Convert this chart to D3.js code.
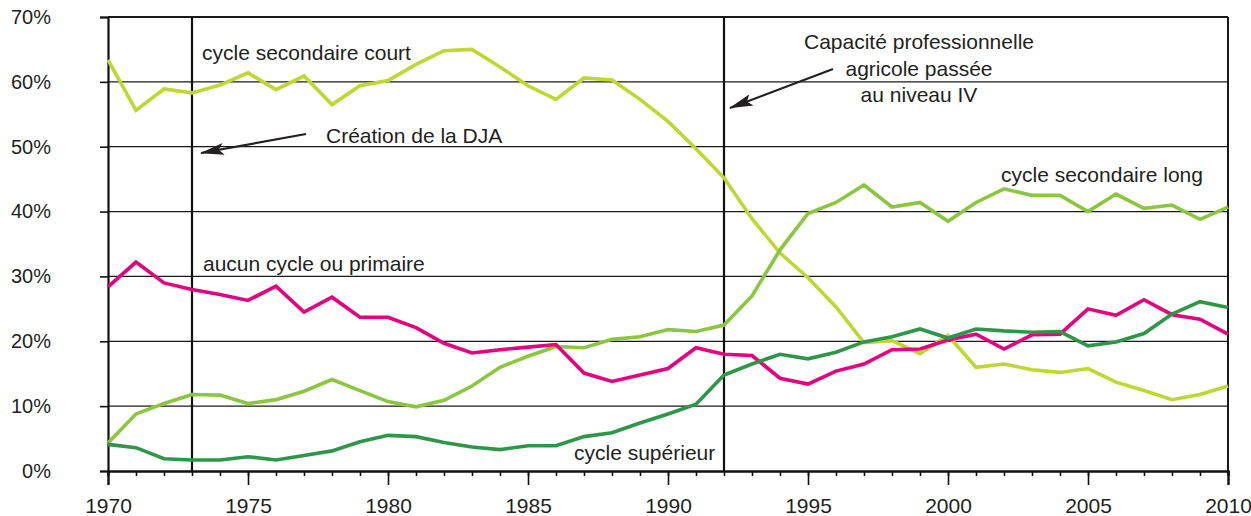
<!DOCTYPE html>
<html>
<head>
<meta charset="utf-8">
<script src="https://cdn.jsdelivr.net/npm/d3@7"></script>
<style>
  body { margin: 0; background: #fff; }
  svg { display: block; font-family: "Liberation Sans", Arial, sans-serif; }
</style>
</head>
<body>
<div id="chart"></div>
<script>
var years = [1970, 1971, 1972, 1973, 1974, 1975, 1976, 1977, 1978, 1979,
             1980, 1981, 1982, 1983, 1984, 1985, 1986, 1987, 1988, 1989,
             1990, 1991, 1992, 1993, 1994, 1995, 1996, 1997, 1998, 1999,
             2000, 2001, 2002, 2003, 2004, 2005, 2006, 2007, 2008, 2009, 2010];

// parts (%) per level
var secondaireCourt = [63.4, 55.6, 58.9, 58.3, 59.5, 61.4, 58.8, 60.9, 56.5, 59.4,
                       60.2, 62.7, 64.8, 65.0, 62.3, 59.4, 57.3, 60.6, 60.3, 57.3,
                       53.9, 49.7, 45.2, 38.9, 33.6, 29.8, 25.3, 19.8, 20.1, 18.1,
                       20.9, 16.0, 16.5, 15.6, 15.2, 15.8, 13.7, 12.4, 11.0, 11.8, 13.1];
var secondaireLong = [4.3, 8.8, 10.4, 11.8, 11.7, 10.4, 11.0, 12.3, 14.1, 12.4,
                      10.7, 9.9, 10.9, 13.1, 16.0, 17.7, 19.2, 19.0, 20.3, 20.7,
                      21.8, 21.5, 22.5, 27.0, 34.1, 39.7, 41.4, 44.1, 40.7, 41.4,
                      38.5, 41.4, 43.5, 42.5, 42.5, 40.0, 42.7, 40.5, 41.0, 38.8, 40.7];
var aucunPrimaire = [28.4, 32.2, 29.0, 28.0, 27.2, 26.3, 28.5, 24.5, 26.8, 23.7,
                     23.7, 22.1, 19.7, 18.2, 18.7, 19.1, 19.5, 15.1, 13.8, 14.8,
                     15.8, 19.0, 18.0, 17.8, 14.3, 13.4, 15.4, 16.5, 18.7, 18.8,
                     20.2, 21.1, 18.8, 21.0, 21.1, 25.0, 24.0, 26.4, 24.1, 23.4, 21.1];
var superieur = [4.1, 3.6, 1.9, 1.7, 1.7, 2.2, 1.7, 2.4, 3.1, 4.5,
                 5.5, 5.3, 4.4, 3.7, 3.3, 3.9, 3.9, 5.3, 5.9, 7.4,
                 8.8, 10.3, 14.8, 16.5, 18.0, 17.3, 18.3, 19.9, 20.7, 21.9,
                 20.5, 21.9, 21.6, 21.4, 21.5, 19.3, 19.9, 21.2, 24.2, 26.1, 25.2];

var yTicks = [0, 10, 20, 30, 40, 50, 60, 70];
var xMajorTicks = [1970, 1975, 1980, 1985, 1990, 1995, 2000, 2005, 2010];
var markerYears = [1973, 1992];

var w = 1251,
    h = 516;

var x = d3.scaleLinear().domain([1970, 2010]).range([108, 1228]);
var y = d3.scaleLinear().domain([0, 70]).range([471, 17]);

var svg = d3.select("#chart")
    .append("svg")
    .attr("width", w)
    .attr("height", h);

// horizontal grid
svg.append("g")
    .selectAll("line")
    .data(yTicks.slice(1))
    .enter()
    .append("line")
    .attr("x1", x(1970))
    .attr("x2", x(2010))
    .attr("y1", function(d) { return y(d); })
    .attr("y2", function(d) { return y(d); })
    .style("stroke", "#1a1a1a")
    .style("stroke-width", function(d) { return d == 70 ? 2 : 1.2; });

// right frame
svg.append("line")
    .attr("x1", x(2010)).attr("x2", x(2010))
    .attr("y1", y(70)).attr("y2", y(0))
    .style("stroke", "#1a1a1a")
    .style("stroke-width", 2);

// the two dates
svg.append("g")
    .selectAll("line")
    .data(markerYears)
    .enter()
    .append("line")
    .attr("x1", function(d) { return x(d); })
    .attr("x2", function(d) { return x(d); })
    .attr("y1", y(70))
    .attr("y2", y(0))
    .style("stroke", "#111")
    .style("stroke-width", 2.2);

// y axis
var yAxis = svg.append("g")
    .attr("transform", "translate(" + x(1970) + ",0)")
    .call(d3.axisLeft(y).tickValues(yTicks).tickSize(8).tickPadding(49)
        .tickFormat(function(d) { return d + "%"; }));

// x axis : short ticks each year, long ticks every 5 years
var xMinor = svg.append("g")
    .attr("transform", "translate(0," + y(0) + ")")
    .call(d3.axisBottom(x).tickValues(years).tickSize(5).tickFormat(""));
var xAxis = svg.append("g")
    .attr("transform", "translate(0," + y(0) + ")")
    .call(d3.axisBottom(x).tickValues(xMajorTicks).tickSize(14).tickPadding(13)
        .tickFormat(d3.format("d")));

svg.selectAll(".domain").style("stroke", "#111").style("stroke-width", 2.2);
svg.selectAll(".tick line").style("stroke", "#111").style("stroke-width", 1.6);
yAxis.selectAll(".tick text").style("font-size", "20px");
xAxis.selectAll(".tick text").style("font-size", "21px");
svg.selectAll(".tick text")
    .style("font-family", "'Liberation Sans', Arial, sans-serif")
    .style("fill", "#231f20");

// series
var series = [
    { name: "court", values: secondaireCourt, color: "#bfd730" },
    { name: "long", values: secondaireLong, color: "#8cc63f" },
    { name: "aucun", values: aucunPrimaire, color: "#e6007e" },
    { name: "sup", values: superieur, color: "#2e9648" }
];

var line = d3.line()
    .x(function(d, i) { return x(years[i]); })
    .y(function(d) { return y(d); });

svg.append("g")
    .selectAll("path")
    .data(series)
    .enter()
    .append("path")
    .attr("d", function(d) { return line(d.values); })
    .style("fill", "none")
    .style("stroke", function(d) { return d.color; })
    .style("stroke-width", 3.6)
    .style("stroke-linejoin", "miter");

// labels
var labels = [
    { text: "cycle secondaire court", x: 202, y: 60, anchor: "start" },
    { text: "Création de la DJA", x: 326, y: 143, anchor: "start" },
    { text: "aucun cycle ou primaire", x: 203, y: 271, anchor: "start" },
    { text: "cycle supérieur", x: 574, y: 460, anchor: "start" },
    { text: "cycle secondaire long", x: 1001, y: 182, anchor: "start" },
    { text: "Capacité professionnelle", x: 919, y: 49, anchor: "middle" },
    { text: "agricole passée", x: 919, y: 76, anchor: "middle" },
    { text: "au niveau IV", x: 919, y: 102, anchor: "middle" }
];

svg.append("g")
    .selectAll("text")
    .data(labels)
    .enter()
    .append("text")
    .attr("x", function(d) { return d.x; })
    .attr("y", function(d) { return d.y; })
    .attr("text-anchor", function(d) { return d.anchor; })
    .style("font-size", "21px")
    .style("fill", "#231f20")
    .text(function(d) { return d.text; });

// arrows, barbed heads
svg.append("defs").append("marker")
    .attr("id", "head")
    .attr("viewBox", "0 0 24 12")
    .attr("refX", 23)
    .attr("refY", 6)
    .attr("markerWidth", 24)
    .attr("markerHeight", 12)
    .attr("markerUnits", "userSpaceOnUse")
    .attr("orient", "auto")
    .append("path")
    .attr("d", "M0,0 L24,6 L0,12 L5,6 Z")
    .style("fill", "#231f20");

var arrows = [
    { x1: 306, y1: 134, x2: 201, y2: 153 },
    { x1: 833, y1: 69, x2: 730, y2: 108 }
];

svg.append("g")
    .selectAll("line")
    .data(arrows)
    .enter()
    .append("line")
    .attr("x1", function(d) { return d.x1; })
    .attr("y1", function(d) { return d.y1; })
    .attr("x2", function(d) { return d.x2; })
    .attr("y2", function(d) { return d.y2; })
    .style("stroke", "#231f20")
    .style("stroke-width", 2.2)
    .attr("marker-end", "url(#head)");
</script>
</body>
</html>
